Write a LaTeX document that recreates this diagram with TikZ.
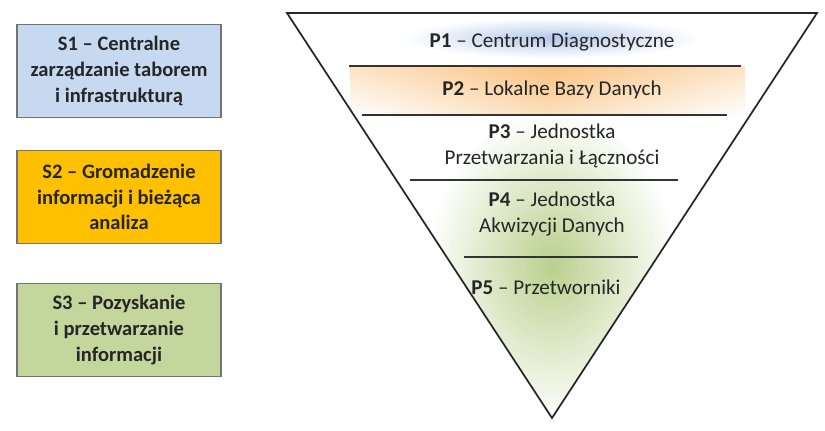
\documentclass[tikz,border=0pt]{standalone}
\usepackage{fontspec}
\setmainfont{Carlito}
\begin{document}
\begin{tikzpicture}[x=0.75pt,y=-0.75pt,
  sbox/.style={draw=black!55,line width=0.8pt,minimum width=204*0.75pt,minimum height=93*0.75pt,align=center,font=\fontsize{15.4}{19.2}\selectfont\bfseries,text=black!85},
  ptxt/.style={align=center,font=\fontsize{15.8}{19.5}\selectfont,text=black!85},
  sep/.style={line width=0.8pt,black!80}]
\useasboundingbox (0,0) rectangle (825,430);
\node[sbox,fill={rgb,255:red,198;green,217;blue,241}] (s1) at (119,71) {S1 – Centralne\\zarządzanie taborem\\i infrastrukturą};
\node[sbox,fill={rgb,255:red,255;green,192;blue,0}] (s2) at (119,197) {S2 – Gromadzenie\\informacji i bieżąca\\analiza};
\node[sbox,fill={rgb,255:red,195;green,214;blue,155}] (s3) at (119,330) {S3 – Pozyskanie\\i przetwarzanie\\informacji};
\coordinate (tl) at (287,13); \coordinate (tr) at (817,13); \coordinate (ap) at (552,418);
\begin{scope}
\clip (tl) -- (tr) -- (ap) -- cycle;
\fill[white] (tl) -- (tr) -- (ap) -- cycle;
\shade[inner color={rgb,255:red,185;green,208;blue,140},outer color=white] (552,265) ellipse (125 and 155);
\shade[inner color={rgb,255:red,180;green,200;blue,235},outer color=white] (552,38) ellipse (150 and 20);
\shade[left color=white,right color=white,middle color={rgb,255:red,250;green,190;blue,120}] (350,66) rectangle (745,115);
\shade[top color={rgb,255:red,250;green,200;blue,140},bottom color=white,opacity=0.5] (350,66) rectangle (745,115);
\end{scope}
\draw[line width=1.3pt,black!85] (tl) -- (tr) -- (ap) -- cycle;
\draw[sep] (349,66) -- (741,66);
\draw[sep] (362,115) -- (727,115);
\draw[sep] (410,180) -- (678,180);
\draw[sep] (464,257) -- (638,257);
\node[ptxt] (p1) at (552,42) {\textbf{P1} – Centrum Diagnostyczne};
\node[ptxt] (p2) at (552,90) {\textbf{P2} – Lokalne Bazy Danych};
\node[ptxt] (p3) at (552,146) {\textbf{P3} – Jednostka\\Przetwarzania i Łączności};
\node[ptxt] (p4) at (552,214) {\textbf{P4} – Jednostka\\Akwizycji Danych};
\node[ptxt] (p5) at (546,287) {\textbf{P5} – Przetworniki};
\end{tikzpicture}
\end{document}
